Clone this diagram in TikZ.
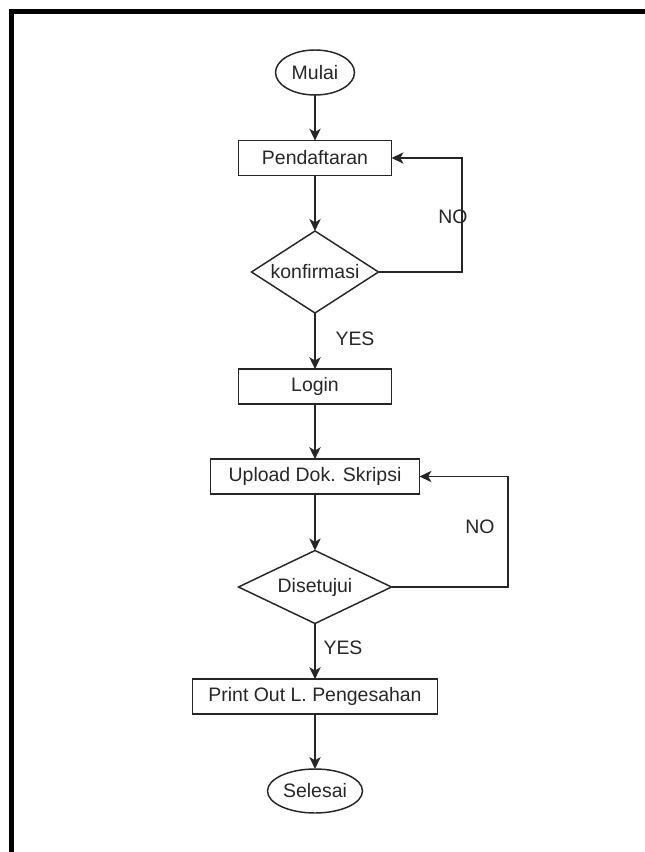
\documentclass[tikz,border=0pt]{standalone}
\usepackage{fontspec}
\setmainfont{Liberation Sans}
\usetikzlibrary{shapes.geometric,arrows.meta}
\begin{document}
\begin{tikzpicture}[x=0.75pt,y=-0.75pt,
  every node/.style={font=\fontsize{14.6pt}{17pt}\selectfont, text=black!85},
  base/.style={draw=black!85, line width=1.1pt, inner sep=0pt, outer sep=0pt},
  terminal/.style={base, ellipse},
  process/.style={base, rectangle, minimum height=26pt},
  decision/.style={base, diamond},
  flow/.style={draw=black!85, line width=1.1pt, -{Stealth[length=9pt, width=8.5pt, inset=2.5pt]}},
  lbl/.style={inner sep=0pt}
]
\useasboundingbox (0,0) rectangle (645,852);
% page frame (top and left edges)
\draw[line width=3.8pt] (11.5,852) -- (11.5,11.5) -- (645,11.5);

% nodes
\node[terminal, minimum width=59.25pt, minimum height=33.75pt] (mulai) at (315,72.5) {Mulai};
\node[process, minimum width=114.75pt] (daftar) at (315,158) {Pendaftaran};
\node[decision, minimum width=95.25pt, minimum height=61.5pt, shape aspect=1.55] (konf) at (315,272) {konfirmasi};
\node[process, minimum width=114.75pt] (login) at (315,386.5) {Login};
\node[process, minimum width=156.75pt] (upload) at (315,476.5) {Upload Dok. Skripsi};
\node[decision, minimum width=114.75pt, minimum height=54.75pt, shape aspect=2.1] (setuju) at (315,587) {Disetujui};
\node[process, minimum width=183.75pt] (print) at (315,696.5) {Print Out L. Pengesahan};
\node[terminal, minimum width=71.25pt, minimum height=33pt] (selesai) at (315,791) {Selesai};

% loop corners
\coordinate (k1) at (462,272);
\coordinate (k2) at (462,158);
\coordinate (s1) at (508,587);
\coordinate (s2) at (508,476.5);

% connectors
\draw[flow] (mulai) -- (daftar);
\draw[flow] (daftar) -- (konf);
\draw[flow] (konf) -- (login);
\draw[flow] (login) -- (upload);
\draw[flow] (upload) -- (setuju);
\draw[flow] (setuju) -- (print);
\draw[flow] (print) -- (selesai);
\draw[flow] (konf.east) -- (k1) -- (k2) -- (daftar.east);
\draw[flow] (setuju.east) -- (s1) -- (s2) -- (upload.east);

% branch labels
\node[lbl] (no1) at (453,217) {NO};
\node[lbl] (yes1) at (355,339) {YES};
\node[lbl] (no2) at (480,527) {NO};
\node[lbl] (yes2) at (343,648) {YES};
\end{tikzpicture}
\end{document}
